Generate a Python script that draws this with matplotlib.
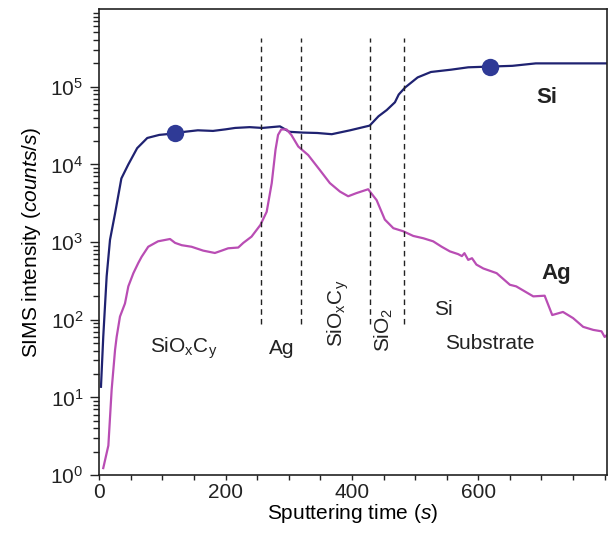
import numpy as np
import matplotlib
matplotlib.use("Agg")
import matplotlib.pyplot as plt
from matplotlib.ticker import MultipleLocator, FixedLocator, LogLocator, NullFormatter

plt.rcParams['font.family'] = ['Liberation Sans', 'DejaVu Sans']
plt.rcParams['mathtext.fontset'] = 'custom'
plt.rcParams['mathtext.rm'] = 'Liberation Sans'
plt.rcParams['mathtext.it'] = 'Liberation Sans:italic'
plt.rcParams['mathtext.bf'] = 'Liberation Sans:bold'

# Si signal (time in s, counts/s)
si_t = [2.7, 6.3, 11.7, 17, 25, 35, 46, 60, 76, 95, 120, 135, 156, 180, 200, 215,
        238, 258, 286, 301, 322, 345, 368, 397, 428, 442, 455, 468, 474, 484,
        504, 525, 557, 584, 619, 654, 691, 740, 803]
si_y = [13.7, 60, 363, 1070, 2340, 6600, 10000, 16200, 21900, 24000, 25100, 26300,
        27500, 27000, 28300, 29500, 30200, 29500, 30900, 26300, 25700, 25400, 24500,
        27500, 31600, 41700, 50100, 63100, 79400, 97700, 132000, 155000, 166000,
        178000, 182000, 186000, 200000, 200000, 200000]

# Ag signal
ag_t = [6.3, 14.4, 19.6, 25, 27.5, 32.8, 40.7, 46, 54, 61.7, 67, 77.5, 93, 112, 120,
        130.5, 146, 164.6, 183, 193.7, 204, 220, 228, 241, 255, 265, 273, 279, 283,
        288, 296.5, 304, 315, 330.7, 349, 365, 381, 394, 407, 425.6, 439, 452,
        465.5, 481, 497, 513, 528.5, 542, 555, 568, 574, 578, 584, 590, 597, 608, 629,
        650, 660, 687, 705, 717, 734, 750, 766, 782, 795, 800, 803]
ag_y = [1.23, 2.4, 12.6, 41, 60, 110, 162, 269, 398, 537, 646, 871, 1023, 1096, 977,
        912, 871, 776, 724, 776, 832, 851, 977, 1175, 1660, 2455, 5750, 15500, 24000,
        28200, 28200, 24000, 17000, 13200, 8500, 5750, 4470, 3890, 4270, 4790, 3470,
        1950, 1510, 1380, 1200, 1120, 1023, 871, 759, 700, 660, 720, 590, 620, 513, 457,
        398, 282, 269, 200, 204, 115, 126, 105, 81, 74, 71, 60, 63]

# highlighted Si points
mark_t = [120, 618]
mark_y = [25100, 182000]

# layer boundaries
bounds = [256, 319, 428, 482]

fig = plt.figure(figsize=(6.09, 5.35), dpi=100)
ax = fig.add_axes([0.163, 0.112, 0.833, 0.871])

ax.plot(si_t, si_y, color='#1f2271', lw=1.6)
ax.plot(ag_t, ag_y, color='#b94db4', lw=1.6)
ax.plot(mark_t, mark_y, 'o', color='#2f3a96', ms=12.5, mec='none')

ax.vlines(bounds, 88, 4.2e5, colors='#222222', linestyles=(0, (4, 3)), lw=1.0)

ax.set_yscale('log')
ax.set_xlim(0, 803)
ax.set_ylim(1, 1e6)

ax.xaxis.set_major_locator(FixedLocator([0, 200, 400, 600]))
ax.xaxis.set_minor_locator(MultipleLocator(50))
ax.yaxis.set_major_locator(FixedLocator([1, 10, 100, 1e3, 1e4, 1e5]))
ax.yaxis.set_minor_locator(LogLocator(base=10, subs=np.arange(2, 10), numticks=20))
ax.yaxis.set_minor_formatter(NullFormatter())

ax.tick_params(axis='both', which='both', direction='out', labelsize=15, colors='#222222')
ax.tick_params(axis='y', which='major', length=6.5, width=1.0, pad=5)
ax.tick_params(axis='y', which='minor', length=4.5, width=1.0)
ax.tick_params(axis='x', which='both', length=3.8, width=1.0, pad=2)
for s in ax.spines.values():
    s.set_linewidth(1.2)
    s.set_color('#222222')

ax.set_xlabel('Sputtering time $\\mathit{(s)}$', fontsize=15, labelpad=0)
ax.set_ylabel('SIMS intensity $\\mathit{(counts/s)}$', fontsize=15, labelpad=5)

txt = dict(fontsize=15, color='#222222', ha='center', va='center')
ax.text(133, 43, 'SiO$_{\\rm x}$C$_{\\rm y}$', **txt)
ax.text(288, 43, 'Ag', **txt)
ax.text(378, 120, 'SiO$_{\\rm x}$C$_{\\rm y}$', rotation=90, **txt)
ax.text(450, 74, 'SiO$_{\\rm 2}$', rotation=90, **txt)
ax.text(545, 135, 'Si', **txt)
ax.text(618, 50, 'Substrate', **txt)
ax.text(708, 72000, 'Si', fontsize=16, fontweight='bold', color='#222222', ha='center', va='center')
ax.text(724, 390, 'Ag', fontsize=16, fontweight='bold', color='#222222', ha='center', va='center')

fig.savefig('out.png', dpi=100)
